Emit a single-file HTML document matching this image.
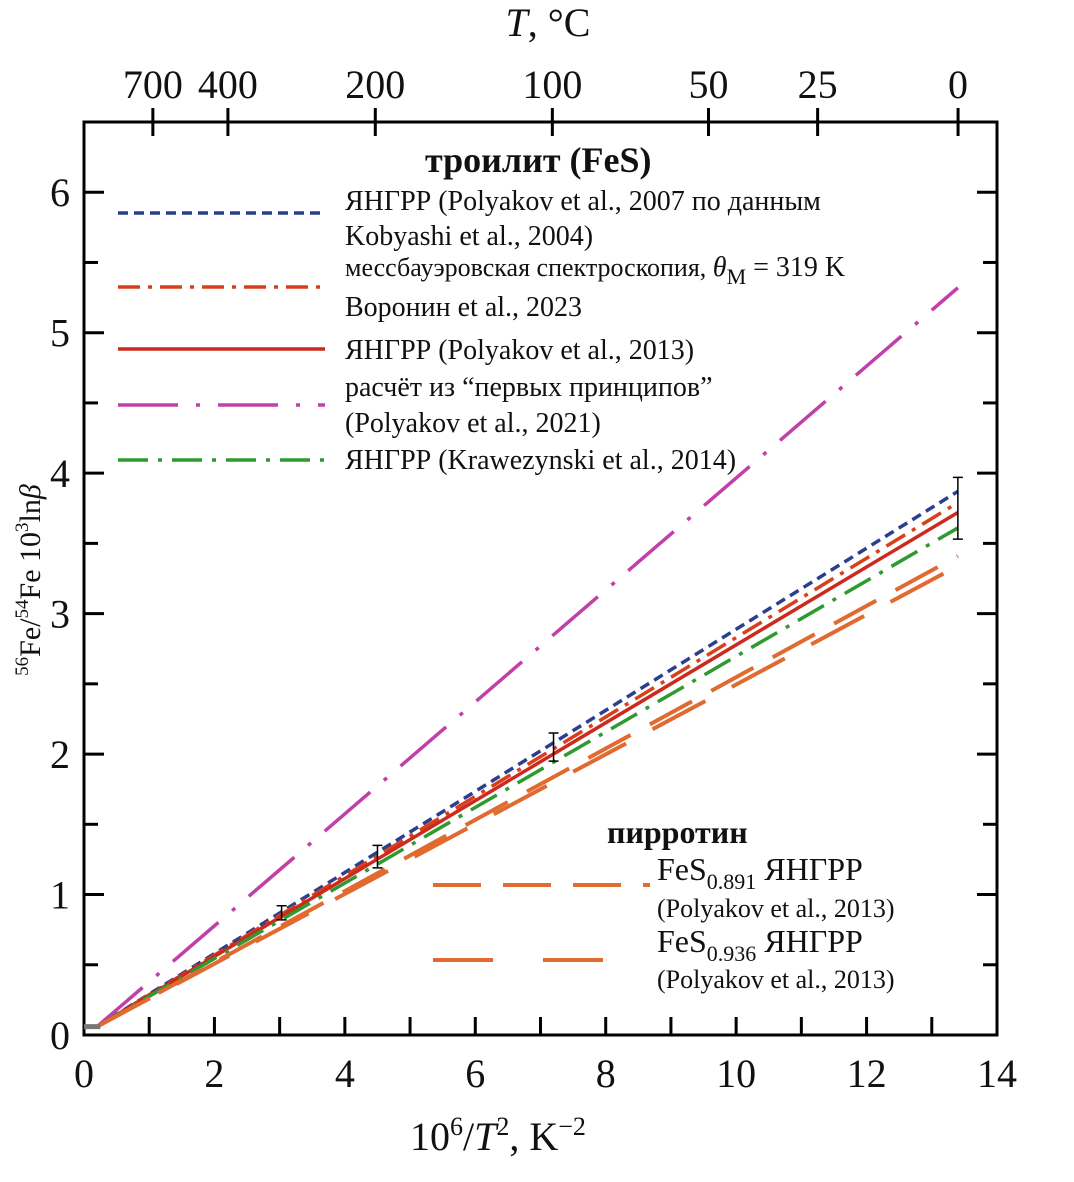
<!DOCTYPE html>
<html><head><meta charset="utf-8"><style>
body{margin:0;background:#fff}
svg text{font-family:"Liberation Serif",serif;fill:#111}
</style></head><body>
<svg width="1074" height="1177" viewBox="0 0 1074 1177">
<g id="g"></g>
</svg>
<script>
const xEnds=[0.2,13.4];
const seriesNames=['blue-yangrr-2007','moss-2023','red-yangrr-2013','magenta-first-principles','green-krawczynski-2014','fes0891','fes0936'];
const yBlue=[0.06,3.87];
const yMoss=[0.06,3.79];
const yRed=[0.06,3.72];
const yMag=[0.06,5.32];
const yGreen=[0.06,3.61];
const yP891=[0.06,3.41];
const yP936=[0.06,3.34];
const errX=[3.03,4.5,7.2,13.4];
const errY=[0.87,1.27,2.05,3.75];
const errD=[0.05,0.08,0.1,0.22];
const topTemps=[700,400,200,100,50,25,0];
const xTicks=[0,2,4,6,8,10,12,14];
const yTicks=[0,1,2,3,4,5,6];
const L=84,R=997,T=122,B=1035,XMAX=14,YMAX=6.5;
const X=v=>L+v*(R-L)/XMAX, Y=v=>B-v*(B-T)/YMAX;
const ns='http://www.w3.org/2000/svg', g=document.getElementById('g');
function el(t,a,txt){const e=document.createElementNS(ns,t);for(const k in a)e.setAttribute(k,a[k]);if(txt!==undefined)e.textContent=txt;g.appendChild(e);return e;}
let f=el('rect',{x:L,y:T,width:R-L,height:B-T,fill:'none',stroke:'#000','stroke-width':3});


for(let i=0;i<=14;i++){let t=el('line',{x1:X(i),x2:X(i),y1:B,y2:B-18,stroke:'#000','stroke-width':3});

}
xTicks.forEach(v=>{let t=el('text',{x:X(v),y:1087,'font-size':40,'text-anchor':'middle'},v);

});
for(let i=0;i<=13;i++){const v=i/2,len=i%2?14:20;
let a=el('line',{x1:L,x2:L+len,y1:Y(v),y2:Y(v),stroke:'#000','stroke-width':3});


let b=el('line',{x1:R,x2:R-len,y1:Y(v),y2:Y(v),stroke:'#000','stroke-width':3});

}
yTicks.forEach(v=>{let t=el('text',{x:70,y:Y(v)+14,'font-size':40,'text-anchor':'end'},v);

});
topTemps.forEach(tc=>{const xv=1e6/Math.pow(tc+273.15,2);
let t=el('line',{x1:X(xv),x2:X(xv),y1:108,y2:136,stroke:'#000','stroke-width':3});


let l=el('text',{x:X(xv),y:98,'font-size':40,'text-anchor':'middle'},tc);

});
const styles=[
 [yBlue,'#2b3f8f','10,6',3.5],
 [yMoss,'#d8401c','22,8,4,8',3.5],
 [yRed,'#cc2a1e','',3.5],
 [yMag,'#c040a8','60,18,4,18',3.5],
 [yGreen,'#2e9a30','30,10,4,10',3.5],
 [yP891,'#e06a30','48,22',4],
 [yP936,'#e06a30','60,30',4]];
styles.forEach((s,i)=>{const ys=s[0];
let p=el('line',{x1:X(xEnds[0]),y1:Y(ys[0]),x2:X(xEnds[1]),y2:Y(ys[1]),stroke:s[1],'stroke-width':s[3],'stroke-dasharray':s[2]});

});
let z=el('line',{x1:X(0),y1:Y(0.06),x2:X(0.25),y2:Y(0.06),stroke:'#777','stroke-width':5});


errX.forEach((xv,i)=>{const x=X(xv),y1=Y(errY[i]-errD[i]),y2=Y(errY[i]+errD[i]);
let e=el('path',{d:`M${x},${y1}V${y2}M${x-5},${y1}h10M${x-5},${y2}h10`,stroke:'#000','stroke-width':1.5,fill:'none'});

});
const leg=[[213,'#2b3f8f','10,6'],[287,'#d8401c','22,8,4,8'],[349,'#cc2a1e',''],[405,'#c040a8','60,18,4,18'],[460,'#2e9a30','30,10,4,10']];
leg.forEach(s=>{let l=el('line',{x1:118,x2:325,y1:s[0],y2:s[0],stroke:s[1],'stroke-width':3.5,'stroke-dasharray':s[2]});

});
const lt=[[425,172,'троилит (FeS)',36,'bold'],[345,210,'ЯНГРР (Polyakov  et al., 2007 по данным',28],[345,245,'Kobyashi et al., 2004)',28],[345,316,'Воронин et al., 2023',28],[345,359,'ЯНГРР (Polyakov et al., 2013)',28],[345,396,'расчёт из “первых принципов”',28],[345,432,'(Polyakov et al., 2021)',28],[345,469,'ЯНГРР (Krawezynski et al., 2014)',28],
[607,843,'пирротин',32,'bold'],[657,917,'(Polyakov et al., 2013)',26],[657,988,'(Polyakov et al., 2013)',26]];
lt.forEach(s=>{let t=el('text',{x:s[0],y:s[1],'font-size':s[3],'font-weight':s[4]||'normal'},s[2]);

});
let m=el('text',{x:345,y:276,'font-size':26},'');
m.innerHTML='мессбауэровская спектроскопия, <tspan font-style="italic" font-size="28">θ</tspan><tspan font-size="22" dy="8">M</tspan><tspan dy="-8" font-size="28"> = 319 K</tspan>';

let s1=el('text',{x:657,y:880,'font-size':32},'');
s1.innerHTML='FeS<tspan font-size="22" dy="9">0.891</tspan><tspan dy="-9"> ЯНГРР</tspan>';

let s2=el('text',{x:657,y:952,'font-size':32},'');
s2.innerHTML='FeS<tspan font-size="22" dy="9">0.936</tspan><tspan dy="-9"> ЯНГРР</tspan>';

let p1=el('line',{x1:433,x2:650,y1:885,y2:885,stroke:'#e06a30','stroke-width':4,'stroke-dasharray':'48,22'});

let p2=el('line',{x1:433,x2:650,y1:960,y2:960,stroke:'#e06a30','stroke-width':4,'stroke-dasharray':'60,50'});

let xt=el('text',{x:410,y:1150,'font-size':40},'');xt.innerHTML='10<tspan font-size="26" dy="-15">6</tspan><tspan dy="15">/</tspan><tspan font-style="italic">T</tspan><tspan font-size="26" dy="-15">2</tspan><tspan dy="15">, K</tspan><tspan font-size="26" dy="-15">−2</tspan>';

let tt=el('text',{x:548,y:36,'font-size':40,'text-anchor':'middle'},'');tt.innerHTML='<tspan font-style="italic">T</tspan>, °C';

let yt=el('text',{transform:'translate(40,580) rotate(-90)','font-size':30,'text-anchor':'middle'},'');
yt.innerHTML='<tspan font-size="19" dy="-12">56</tspan><tspan dy="12">Fe/</tspan><tspan font-size="19" dy="-12">54</tspan><tspan dy="12">Fe 10</tspan><tspan font-size="19" dy="-12">3</tspan><tspan dy="12">ln</tspan><tspan font-style="italic">β</tspan>';

</script>
</body></html>
